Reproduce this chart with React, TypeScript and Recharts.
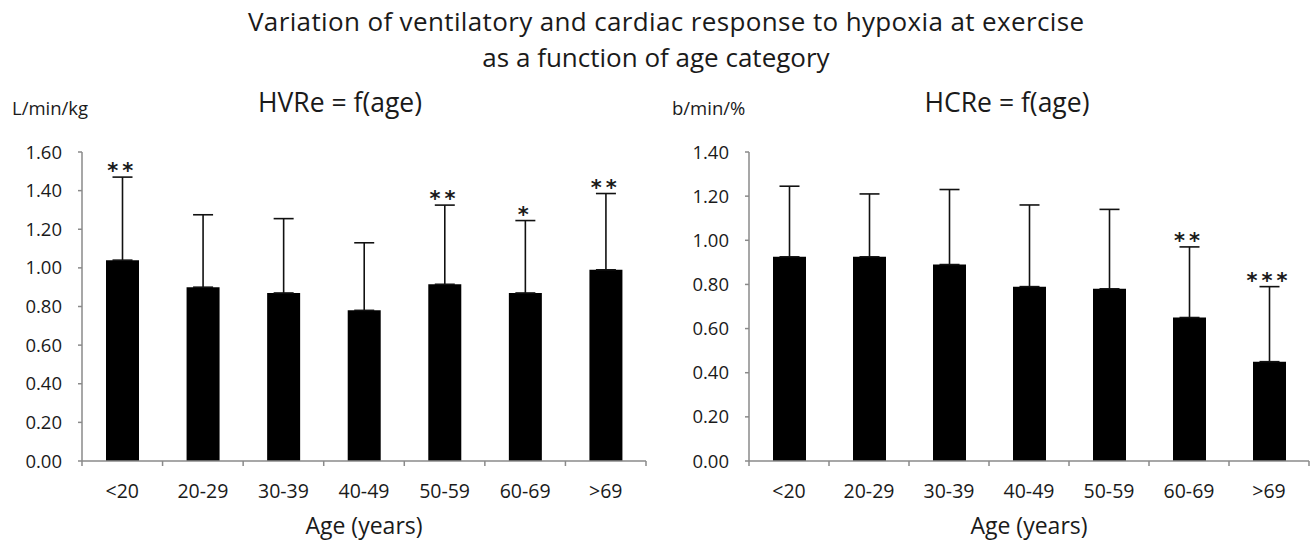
import React from 'react';
import { ComposedChart, Bar, Line, XAxis, YAxis, ErrorBar } from 'recharts';

const categories = ['<20', '20-29', '30-39', '40-49', '50-59', '60-69', '>69'];

const hvrMean = [1.04, 0.9, 0.87, 0.78, 0.915, 0.87, 0.99];
const hvrSd = [0.43, 0.375, 0.385, 0.35, 0.41, 0.375, 0.395];
const hvrStars = ['**', '', '', '', '**', '*', '**'];
const hvrTicks = [0, 0.2, 0.4, 0.6, 0.8, 1.0, 1.2, 1.4, 1.6];

const hcrMean = [0.925, 0.925, 0.89, 0.79, 0.78, 0.65, 0.45];
const hcrSd = [0.32, 0.285, 0.34, 0.37, 0.36, 0.32, 0.34];
const hcrStars = ['', '', '', '', '', '**', '***'];
const hcrTicks = [0, 0.2, 0.4, 0.6, 0.8, 1.0, 1.2, 1.4];

const FONT = '"Open Sans", Lato, sans-serif';
const AXIS_GREY = '#8a8a8a';
const TEXT = '#1a1a1a';
const X_TICK_SIZE = 5;
const X_TICK_MARGIN = 18;

function buildRows(means: number[], sds: number[], stars: string[]) {
  return categories.map((age, i) => ({
    age,
    mean: means[i],
    err: [0, sds[i]],
    tip: means[i] + sds[i],
    stars: stars[i],
  }));
}

const hvrRows = buildRows(hvrMean, hvrSd, hvrStars);
const hcrRows = buildRows(hcrMean, hcrSd, hcrStars);

function StarLabel(props: any) {
  const { x, y, index, rows } = props;
  const s = rows[index]?.stars;
  if (!s) return null;
  return (
    <text
      x={x}
      y={y + 1}
      textAnchor="middle"
      fontFamily='"DejaVu Sans", sans-serif'
      fontWeight="bold"
      fontSize={21}
      letterSpacing={4}
      fill={TEXT}
    >
      {s}
    </text>
  );
}

// category label plus tick marks on the band edges (Excel style)
function AgeTick(props: any) {
  const { x, y, payload, index } = props;
  const half = payload?.offset ?? 0;
  const axisY = y - X_TICK_SIZE - X_TICK_MARGIN;
  const last = index === categories.length - 1;
  return (
    <g>
      <line x1={x - half} x2={x - half} y1={axisY} y2={axisY + X_TICK_SIZE} stroke={AXIS_GREY} strokeWidth={1.5} />
      {last && (
        <line x1={x + half} x2={x + half} y1={axisY} y2={axisY + X_TICK_SIZE} stroke={AXIS_GREY} strokeWidth={1.5} />
      )}
      <text x={x} y={y} dy="0.71em" textAnchor="middle" fill={TEXT} fontSize={19.5} fontFamily={FONT}>
        {payload?.value}
      </text>
    </g>
  );
}

interface PanelProps {
  rows: any[];
  ticks: number[];
  max: number;
  width: number;
  yAxisWidth: number;
  rightMargin: number;
}

function Panel({ rows, ticks, max, width, yAxisWidth, rightMargin }: PanelProps) {
  return (
    <ComposedChart
      width={width}
      height={546}
      data={rows}
      margin={{ top: 152, right: rightMargin, left: 0, bottom: 0 }}
    >
      <XAxis
        dataKey="age"
        height={85}
        interval={0}
        axisLine={{ stroke: AXIS_GREY, strokeWidth: 1.5 }}
        tickLine={false}
        tickSize={X_TICK_SIZE}
        tickMargin={X_TICK_MARGIN}
        tick={AgeTick}
        label={{
          value: 'Age (years)',
          position: 'insideBottom',
          offset: 12,
          fill: TEXT,
          fontSize: 23,
          fontFamily: FONT,
        }}
      />
      <YAxis
        width={yAxisWidth}
        domain={[0, max]}
        ticks={ticks}
        interval={0}
        tickFormatter={(v: number) => v.toFixed(2)}
        axisLine={{ stroke: AXIS_GREY, strokeWidth: 1.5 }}
        tickLine={{ stroke: AXIS_GREY, strokeWidth: 1.5 }}
        tickSize={4}
        tickMargin={16}
        tick={{ fill: TEXT, fontSize: 18.5, fontFamily: FONT }}
      />
      <Bar dataKey="mean" fill="#000" barSize={33} isAnimationActive={false}>
        <ErrorBar dataKey="err" width={10} stroke="#111" strokeWidth={1.6} direction="y" />
      </Bar>
      <Line
        dataKey="tip"
        stroke="none"
        dot={false}
        activeDot={false}
        isAnimationActive={false}
        label={(p: any) => <StarLabel {...p} rows={rows} />}
      />
    </ComposedChart>
  );
}

export default function App() {
  return (
    <div
      style={{
        position: 'absolute',
        left: 0,
        top: 0,
        width: 1313,
        height: 546,
        background: '#fff',
        fontFamily: FONT,
      }}
    >
      <div style={{ position: 'absolute', left: 0, top: 0 }}>
        <Panel rows={hvrRows} ticks={hvrTicks} max={1.6} width={660} yAxisWidth={82} rightMargin={14} />
      </div>
      <div style={{ position: 'absolute', left: 660, top: 0 }}>
        <Panel rows={hcrRows} ticks={hcrTicks} max={1.4} width={653} yAxisWidth={89} rightMargin={4} />
      </div>
      <svg
        width={1313}
        height={130}
        style={{ position: 'absolute', left: 0, top: 0, pointerEvents: 'none' }}
        fontFamily={FONT}
        fill={TEXT}
      >
        <text x={666} y={31} textAnchor="middle" fontSize={26} textLength={836} lengthAdjust="spacing">
          Variation of ventilatory and cardiac response to hypoxia at exercise
        </text>
        <text x={656} y={67} textAnchor="middle" fontSize={26}>
          as a function of age category
        </text>
        <text x={340} y={112} textAnchor="middle" fontSize={26.5}>
          HVRe = f(age)
        </text>
        <text x={1007} y={112} textAnchor="middle" fontSize={26.5}>
          HCRe = f(age)
        </text>
        <text x={12} y={115} fontSize={18.5}>
          L/min/kg
        </text>
        <text x={672} y={115} fontSize={18.5}>
          b/min/%
        </text>
      </svg>
    </div>
  );
}
